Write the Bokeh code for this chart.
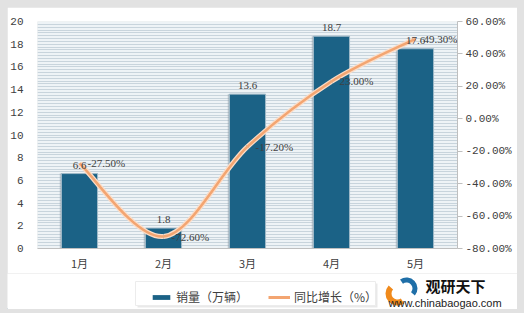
from bokeh.plotting import figure
from bokeh.models import (ColumnDataSource, Range1d, LinearAxis, SingleIntervalTicker,
                          FixedTicker, PrintfTickFormatter, Legend, LegendItem, LabelSet)
from bokeh.core.properties import value
from bokeh.layouts import column
from bokeh.embed import file_html
from bokeh.resources import INLINE

months = ["1月", "2月", "3月", "4月", "5月"]
sales = [6.6, 1.8, 13.6, 18.7, 17.6]
growth = [-27.5, -72.6, -17.2, 23.0, 49.3]
sales_labels = ["6.6", "1.8", "13.6", "18.7", "17.6"]
growth_labels = ["-27.50%", "-72.60%", "-17.20%", "23.00%", "49.30%"]
series_names = ["销量（万辆）", "同比增长（%）"]

xs = list(range(1, len(months) + 1))

NUMF = "Liberation Mono"
CJK = "Noto Sans CJK SC"
TXT = "#404040"
BAR = "#1b6286"
LINE = "#f3a571"

p = figure(frame_width=420, frame_height=227,
           x_range=Range1d(0.5, 5.5), y_range=Range1d(0, 20),
           output_backend="svg", toolbar_location=None,
           min_border_left=30, min_border_right=60, min_border_top=14, min_border_bottom=22,
           background_fill_color="#eef3f6", border_fill_color="white")
p.outline_line_color = None
p.extra_y_ranges = {"pct": Range1d(-80, 60)}

p.xgrid.grid_line_color = None
p.ygrid.ticker = SingleIntervalTicker(interval=2, num_minor_ticks=8)
p.ygrid.grid_line_color = "#c8d4dc"
p.ygrid.minor_grid_line_color = "#c8d4dc"

p.yaxis.ticker = SingleIntervalTicker(interval=2)
p.yaxis.axis_line_color = None
p.yaxis.major_tick_line_color = None
p.yaxis.minor_tick_line_color = None
p.yaxis.major_label_text_font = NUMF
p.yaxis.major_label_text_font_size = "11px"
p.yaxis.major_label_text_color = TXT
p.yaxis.major_label_standoff = 8

p.xaxis.ticker = FixedTicker(ticks=xs)
p.xaxis.major_label_overrides = {x: m for x, m in zip(xs, months)}
p.xaxis.axis_line_color = "#bfbfbf"
p.xaxis.major_tick_line_color = None
p.xaxis.minor_tick_line_color = None
p.xaxis.major_label_text_font = CJK
p.xaxis.major_label_text_font_size = "11px"
p.xaxis.major_label_text_color = TXT
p.xaxis.major_label_standoff = 0

ax = LinearAxis(y_range_name="pct", ticker=SingleIntervalTicker(interval=20),
                formatter=PrintfTickFormatter(format="%.2f%%"))
ax.axis_line_color = "#bfbfbf"
ax.major_tick_line_color = "#bfbfbf"
ax.major_tick_out = 5
ax.major_tick_in = 0
ax.minor_tick_line_color = None
ax.major_label_text_font = NUMF
ax.major_label_text_font_size = "11px"
ax.major_label_text_color = TXT
ax.major_label_standoff = 3
p.add_layout(ax, "right")

src = ColumnDataSource(dict(x=xs, sales=sales, growth=growth,
                            sl=sales_labels, gl=growth_labels))

p.vbar(x=[x - 0.02 for x in xs], top=sales, width=0.43, bottom=0,
       fill_color="#8a9aa6", line_color=None, fill_alpha=0.5)
p.vbar(x="x", top="sales", width=0.43, source=src,
       fill_color=BAR, line_color="#9fb9c8", line_width=1)

n = len(xs)
P = list(zip(xs, growth))
x0s, y0s, x1s, y1s, cx0, cy0, cx1, cy1 = [], [], [], [], [], [], [], []
for i in range(n - 1):
    p0 = P[i - 1] if i > 0 else P[i]
    p1 = P[i]
    p2 = P[i + 1]
    p3 = P[i + 2] if i + 2 < n else P[i + 1]
    x0s.append(p1[0]); y0s.append(p1[1])
    x1s.append(p2[0]); y1s.append(p2[1])
    cx0.append(p1[0] + (p2[0] - p0[0]) / 6); cy0.append(p1[1] + (p2[1] - p0[1]) / 6)
    cx1.append(p2[0] - (p3[0] - p1[0]) / 6); cy1.append(p2[1] - (p3[1] - p1[1]) / 6)
bsrc = ColumnDataSource(dict(x0=x0s, y0=y0s, x1=x1s, y1=y1s, cx0=cx0, cy0=cy0, cx1=cx1, cy1=cy1))
p.bezier(x0="x0", y0="y0", x1="x1", y1="y1", cx0="cx0", cy0="cy0", cx1="cx1", cy1="cy1",
         source=bsrc, y_range_name="pct", line_color="#fbdcc6", line_width=5)
p.bezier(x0="x0", y0="y0", x1="x1", y1="y1", cx0="cx0", cy0="cy0", cx1="cx1", cy1="cy1",
         source=bsrc, y_range_name="pct", line_color=LINE, line_width=2.5)

p.add_layout(LabelSet(x="x", y="sales", text="sl", source=src, text_align="center",
                      text_baseline="bottom", y_offset=5, text_font=NUMF,
                      text_font_size="11px", text_color=TXT))
p.add_layout(LabelSet(x="x", y="growth", text="gl", source=src, y_range_name="pct",
                      text_align="left", text_baseline="middle", x_offset=8,
                      text_font=NUMF, text_font_size="11px", text_color=TXT))

# bottom strip: legend + watermark
q = figure(width=510, height=36, x_range=Range1d(0, 510), y_range=Range1d(0, 36),
           output_backend="svg", toolbar_location=None, min_border=0,
           border_fill_color="white", background_fill_color="white")
q.axis.visible = False
q.grid.visible = False
q.outline_line_color = None
q.quad(left=[130], right=[370], bottom=[2], top=[26], fill_color="#e9e9e9", line_color=None)
q.quad(left=[128], right=[368], bottom=[4], top=[28], fill_color="white", line_color="#ececec")
lb = q.vbar(x=[-100], top=[1], width=1, fill_color=BAR, line_color=None)
ll = q.line(x=[-100, -99], y=[1, 1], line_color=LINE, line_width=3)
legend = Legend(items=[LegendItem(label=series_names[0], renderers=[lb]),
                       LegendItem(label=series_names[1], renderers=[ll])],
                orientation="horizontal", location=(143, 4),
                label_text_font=CJK, label_text_font_size="12px", label_text_color=TXT,
                glyph_width=22, glyph_height=6, label_height=14, label_standoff=4, spacing=20,
                padding=5, margin=0, border_line_color=None, background_fill_alpha=0)
q.add_layout(legend, "center")

q.annular_wedge(x=[390], y=[16], inner_radius=6, outer_radius=12, start_angle=2.4,
                end_angle=5.3, fill_color="#f08a1c", line_color=None)
q.annular_wedge(x=[399], y=[21], inner_radius=6, outer_radius=11, start_angle=-0.7,
                end_angle=2.2, fill_color="#1f6fa8", line_color=None)
q.text(x=[418], y=[24], text=["观研天下"], text_font=value(CJK), text_font_style="bold",
       text_font_size="15px", text_color="#111111", text_baseline="middle")
q.text(x=[381], y=[7], text=["www.chinabaogao.com"], text_font=value("Liberation Sans"),
       text_font_size="11px", text_color="#222222", text_baseline="middle")

layout = column(p, column(q), spacing=0,
                styles={"padding": "7px", "background-color": "#e2e2e2"})
open("out.html", "w").write(file_html(layout, INLINE))
